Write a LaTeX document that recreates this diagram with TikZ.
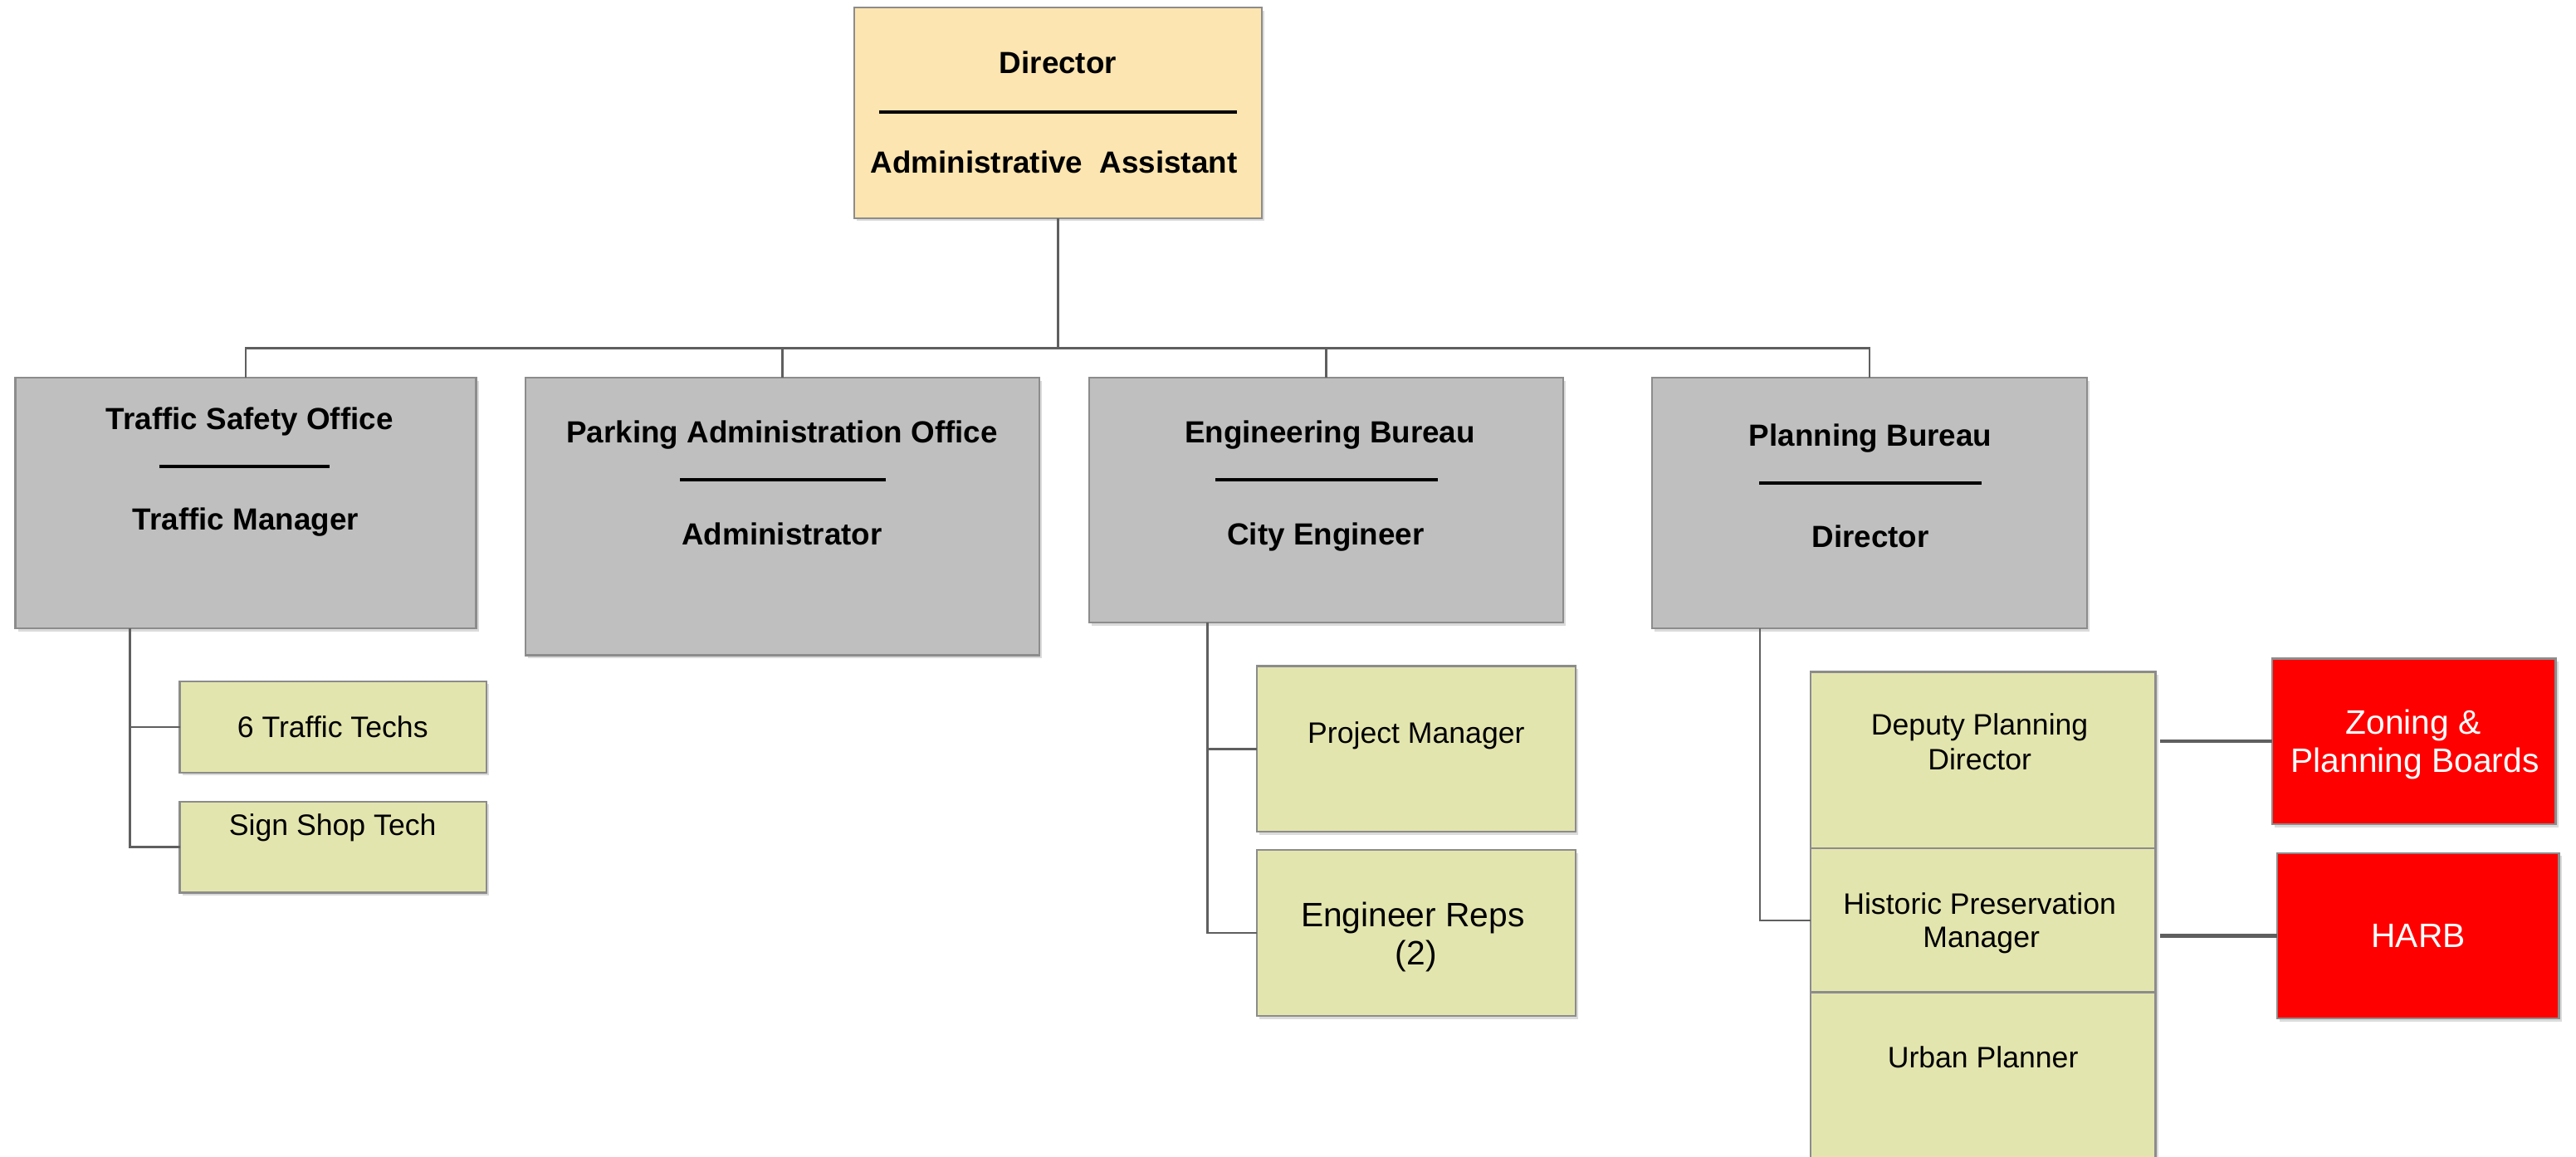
\documentclass[tikz,border=0pt]{standalone}
\usepackage{fontspec}
\setmainfont{Liberation Sans}
\usetikzlibrary{shadows}
\definecolor{dirfill}{HTML}{FCE5B0}
\definecolor{greyfill}{HTML}{BFBFBF}
\definecolor{greenfill}{HTML}{E3E5AE}
\definecolor{redfill}{HTML}{FF0000}
\definecolor{boxline}{HTML}{8C8C8C}
\definecolor{connline}{HTML}{5F5F5F}
\begin{document}
\begin{tikzpicture}[x=0.5pt,y=-0.5pt,
  box/.style={draw=boxline,line width=0.6pt,inner sep=0pt,outer sep=0pt,
    drop shadow={shadow xshift=0.8pt,shadow yshift=-0.9pt,opacity=0.35,fill=black!40}},
  dirbox/.style={box,fill=dirfill},
  greybox/.style={box,fill=greyfill},
  greenbox/.style={box,fill=greenfill},
  redbox/.style={box,fill=redfill},
  bold/.style={anchor=base,inner sep=0pt,font=\fontsize{9.3}{11}\selectfont\bfseries},
  reg/.style={anchor=base,inner sep=0pt,font=\fontsize{9}{10.5}\selectfont},
  big/.style={anchor=base,inner sep=0pt,font=\fontsize{10.3}{12}\selectfont},
  bigw/.style={big,text=white},
  rulestyle/.style={line width=1pt,black},
  conn/.style={draw=connline,line width=0.6pt},
  thickconn/.style={draw=connline,line width=1.1pt}]
\useasboundingbox (0,0) rectangle (1568,704.4);

% ---- boxes ----
\node[dirbox,minimum width=124pt,minimum height=64.1pt] (dir) at (644,68.7) {};
\node[greybox,minimum width=140.25pt,minimum height=76.3pt] (tso) at (149.55,306.3) {};
\node[greybox,minimum width=156.45pt,minimum height=84.5pt] (park) at (476.2,314.5) {};
\node[greybox,minimum width=144.25pt,minimum height=74.5pt] (eng) at (807.25,304.5) {};
\node[greybox,minimum width=132.4pt,minimum height=76.3pt] (plan) at (1138.1,306.3) {};

\node[greenbox,minimum width=93.3pt,minimum height=27.8pt] (tt1) at (202.7,442.6) {};
\node[greenbox,minimum width=93.3pt,minimum height=27.75pt] (tt2) at (202.7,515.75) {};
\node[greenbox,minimum width=97pt,minimum height=50.45pt] (pm) at (862,456) {};
\node[greenbox,minimum width=97pt,minimum height=50.5pt] (er) at (862,568.1) {};
\node[greenbox,minimum width=105pt,minimum height=53.65pt] (dpd) at (1207,462.65) {};
\node[greenbox,minimum width=105pt,minimum height=43.95pt] (hpm) at (1207,560.25) {};
\node[greenbox,minimum width=105pt,minimum height=57.9pt] (urb) at (1207,662.1) {};
\node[redbox,minimum width=86.3pt,minimum height=50.4pt] (zon) at (1469.3,451.4) {};
\node[redbox,minimum width=85.8pt,minimum height=50.3pt] (harb) at (1471.8,569.7) {};

% ---- texts ----
\node[bold] (dirt1) at (644,44.5) {Director};
\draw[rulestyle] (535,68) -- (753,68);
\node[bold] (dirt2) at (641.5,105.5) {Administrative\ \ Assistant};

\node[bold] (tsot1) at (152,261.5) {Traffic Safety Office};
\draw[rulestyle] (97,284) -- (200.6,284);
\node[bold] (tsot2) at (149.5,322.5) {Traffic Manager};

\node[bold] (parkt1) at (476,269.5) {Parking Administration Office};
\draw[rulestyle] (414,292) -- (539,292);
\node[bold] (parkt2) at (476,331.5) {Administrator};

\node[bold] (engt1) at (809.5,269.5) {Engineering Bureau};
\draw[rulestyle] (740,292) -- (875,292);
\node[bold] (engt2) at (807,331.5) {City Engineer};

\node[bold] (plant1) at (1138.5,271.5) {Planning Bureau};
\draw[rulestyle] (1071,294) -- (1206,294);
\node[bold] (plant2) at (1138.5,333.5) {Director};

\node[reg] (tt1t) at (202.5,449) {6 Traffic Techs};
\node[reg] (tt2t) at (202.5,508.5) {Sign Shop Tech};
\node[reg] (pmt) at (862,452.5) {Project Manager};
\node[big] (ert1) at (860,564) {Engineer Reps};
\node[big] (ert2) at (862,587.5) {(2)};
\node[reg] (dpdt1) at (1205,447.5) {Deputy Planning};
\node[reg] (dpdt2) at (1205,468.5) {Director};
\node[reg] (hpmt1) at (1205,556.5) {Historic Preservation};
\node[reg] (hpmt2) at (1206,577) {Manager};
\node[reg] (urbt) at (1207,650) {Urban Planner};
\node[bigw] (zont1) at (1469,447) {Zoning \&};
\node[bigw] (zont2) at (1470,470) {Planning Boards};
\node[bigw] (harbt) at (1472,577) {HARB};

% ---- connectors ----
\coordinate (bus) at (644,212);
\draw[conn] (dir.south) -- (bus);
\draw[conn] (tso.north) |- (bus) -| (plan.north);
\draw[conn] (park.north) -- (park.north |- bus);
\draw[conn] (eng.north) -- (eng.north |- bus);

\coordinate (tsodrop) at (79,382.6);
\draw[conn] (tsodrop) |- (tt2.west);
\draw[conn] (tt1.west) -- (tt1.west -| tsodrop);

\coordinate (engdrop) at (735,379);
\draw[conn] (engdrop) |- (er.west);
\draw[conn] (pm.west) -- (pm.west -| engdrop);

\coordinate (plandrop) at (1071.4,382.6);
\draw[conn] (plandrop) |- (hpm.west);

\draw[thickconn] (zon.west) -- ([xshift=1.5pt]zon.west -| dpd.east);
\draw[thickconn] (harb.west) -- ([xshift=1.5pt]harb.west -| hpm.east);
\end{tikzpicture}
\end{document}
